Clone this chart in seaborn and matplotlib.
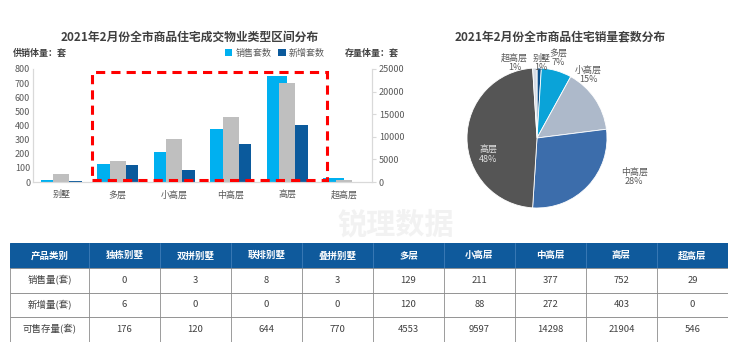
import numpy as np
import pandas as pd
import matplotlib
matplotlib.use('Agg')
import matplotlib.pyplot as plt
from matplotlib.patches import Rectangle
import seaborn as sns

# ---------- 数据 ----------
categories = ['别墅', '多层', '小高层', '中高层', '高层', '超高层']
sales = [14, 129, 211, 377, 752, 29]          # 销售套数
new_supply = [6, 120, 88, 272, 403, 0]         # 新增套数
stock = [1710, 4553, 9597, 14298, 21904, 546]  # 可售存量

pie_labels = ['别墅', '多层', '小高层', '中高层', '高层', '超高层']
pie_pct = [1, 7, 15, 28, 48, 1]

table_cols = ['产品类别', '独栋别墅', '双拼别墅', '联排别墅', '叠拼别墅', '多层', '小高层', '中高层', '高层', '超高层']
table_rows = ['销售量(套)', '新增量(套)', '可售存量(套)']
table_sales = [0, 3, 8, 3, 129, 211, 377, 752, 29]
table_new = [6, 0, 0, 0, 120, 88, 272, 403, 0]
table_stock = [176, 120, 644, 770, 4553, 9597, 14298, 21904, 546]

# ---------- 样式 ----------
sns.set_style('white')
plt.rcParams['font.family'] = ['Noto Sans CJK SC', 'DejaVu Sans']
TXT = '#595959'
W, H = 740, 351

fig = plt.figure(figsize=(7.4, 3.51), dpi=100)


def box(x0, y0, x1, y1):
    """ 像素框 -> figure 坐标 """
    return [x0 / W, 1 - y1 / H, (x1 - x0) / W, (y1 - y0) / H]


# 水印
fig.text(337 / W, 1 - 225 / H, '锐理数据', fontsize=21, fontweight='bold',
         color='#f2f2f2', ha='left', va='center', zorder=0)

# ---------- 柱状图 ----------
ax = fig.add_axes(box(33, 69, 372, 182))
df = pd.DataFrame({'类别': categories * 2,
                   '套数': sales + new_supply,
                   '系列': ['销售套数'] * len(categories) + ['新增套数'] * len(categories)})
sns.barplot(data=df, x='类别', y='套数', hue='系列', order=categories,
            hue_order=['销售套数', '新增套数'],
            palette={'销售套数': '#00B0F0', '新增套数': '#0B5A9C'},
            width=0.72, gap=0, saturation=1, linewidth=0, ax=ax)
ax.set_ylim(0, 800)
ax.set_yticks(range(0, 801, 100))
ax.set_xlim(-0.5, len(categories) - 0.5)
ax.set_xlabel('')
ax.set_ylabel('')

ax2 = ax.twinx()
sns.barplot(x=categories, y=stock, order=categories, color='#BFBFBF',
            width=0.28, saturation=1, linewidth=0, ax=ax2)
ax2.set_ylim(0, 25000)
ax2.set_yticks(range(0, 25001, 5000))
ax2.set_xlim(-0.5, len(categories) - 0.5)
ax2.set_ylabel('')

for a in (ax, ax2):
    for s in a.spines.values():
        s.set_color('#D9D9D9')
        s.set_linewidth(0.8)
    a.spines['top'].set_visible(False)
    a.tick_params(axis='y', labelsize=6.5, labelcolor=TXT, length=3, color='#D9D9D9', pad=2)
ax.tick_params(axis='x', labelsize=6.5, labelcolor=TXT, length=0, pad=6)
ax.set_xticks(np.arange(-0.5, len(categories), 1), minor=True)
ax.tick_params(axis='x', which='minor', length=4, color='#D9D9D9')
ax.tick_params(axis='y', length=0)

leg = ax.legend(loc='center right', bbox_to_anchor=(0.87, 1.14), ncol=2, frameon=False,
                fontsize=6.5, handlelength=0.8, handleheight=0.8, handletextpad=0.3,
                columnspacing=0.8, borderaxespad=0)
for t in leg.get_texts():
    t.set_color(TXT)

# 红色虚线框
ax2.add_patch(Rectangle((0.55, 450), 4.16, 23900, fill=False, edgecolor='#FF0000',
                        linewidth=2.2, linestyle=(0, (3, 2)), clip_on=False, zorder=10))

fig.text(190 / W, 1 - 37 / H, '2021年2月份全市商品住宅成交物业类型区间分布',
         fontsize=8.5, fontweight='bold', color='#404040', ha='center', va='center')
fig.text(13 / W, 1 - 53 / H, '供销体量：套', fontsize=6.5, fontweight='bold', color='#404040', va='center')
fig.text(345 / W, 1 - 53 / H, '存量体量：套', fontsize=6.5, fontweight='bold', color='#404040', va='center')

# ---------- 饼图 ----------
pax = fig.add_axes(box(467, 68, 607, 208))
pie_colors = ['#0B4F8A', '#0AA3D8', '#ADB9CA', '#3C6DAB', '#555555', '#D6DCE5']
pax.pie(pie_pct, colors=pie_colors, startangle=90, counterclock=False, radius=1,
        wedgeprops=dict(edgecolor='white', linewidth=0.6))
pax.set_xlim(-1, 1)
pax.set_ylim(-1, 1)
pax.set_aspect('equal')
label_pos = [(0.06, 1.07), (0.30, 1.14), (0.73, 0.90), (1.39, -0.56), (-0.70, -0.24), (-0.32, 1.07)]
for name, pct, (lx, ly) in zip(pie_labels, pie_pct, label_pos):
    c = '#E0E0E0' if name == '高层' else TXT
    pax.text(lx, ly, f'{name}\n{pct}%', ha='center', va='center', fontsize=6.5,
             color=c, linespacing=1.05, clip_on=False)
fig.text(560 / W, 1 - 37 / H, '2021年2月份全市商品住宅销量套数分布',
         fontsize=8.5, fontweight='bold', color='#404040', ha='center', va='center')

# ---------- 表格 ----------
tax = fig.add_axes(box(10, 243, 728, 342))
tax.set_xlim(0, 718)
tax.set_ylim(4, 0)
tax.axis('off')
col_w = [79] + [71] * 9
col_x = np.concatenate([[0], np.cumsum(col_w)])
head_blue = '#0F5A9C'
tax.add_patch(Rectangle((0, 0), 718, 1, facecolor=head_blue, edgecolor=head_blue, linewidth=0.8))
for j, name in enumerate(table_cols):
    tax.text(col_x[j] + col_w[j] / 2, 0.5, name, ha='center', va='center',
             fontsize=6.8, fontweight='bold', color='white')
    if j > 0:
        tax.plot([col_x[j]] * 2, [0, 1], color='#3F7DB8', linewidth=0.6)
rows_vals = [table_sales, table_new, table_stock]
for i, (rname, vals) in enumerate(zip(table_rows, rows_vals)):
    y = i + 1
    tax.add_patch(Rectangle((0, y), 718, 1, facecolor='white', edgecolor='#8C8C8C', linewidth=0.6))
    tax.text(col_x[0] + col_w[0] / 2, y + 0.5, rname, ha='center', va='center', fontsize=6.8, color='#404040')
    for j, v in enumerate(vals, start=1):
        tax.text(col_x[j] + col_w[j] / 2, y + 0.5, str(v), ha='center', va='center',
                 fontsize=6.8, color='#404040')
    for j in range(1, len(col_x) - 1):
        tax.plot([col_x[j]] * 2, [y, y + 1], color='#8C8C8C', linewidth=0.6)

fig.savefig('out.png', dpi=100)
